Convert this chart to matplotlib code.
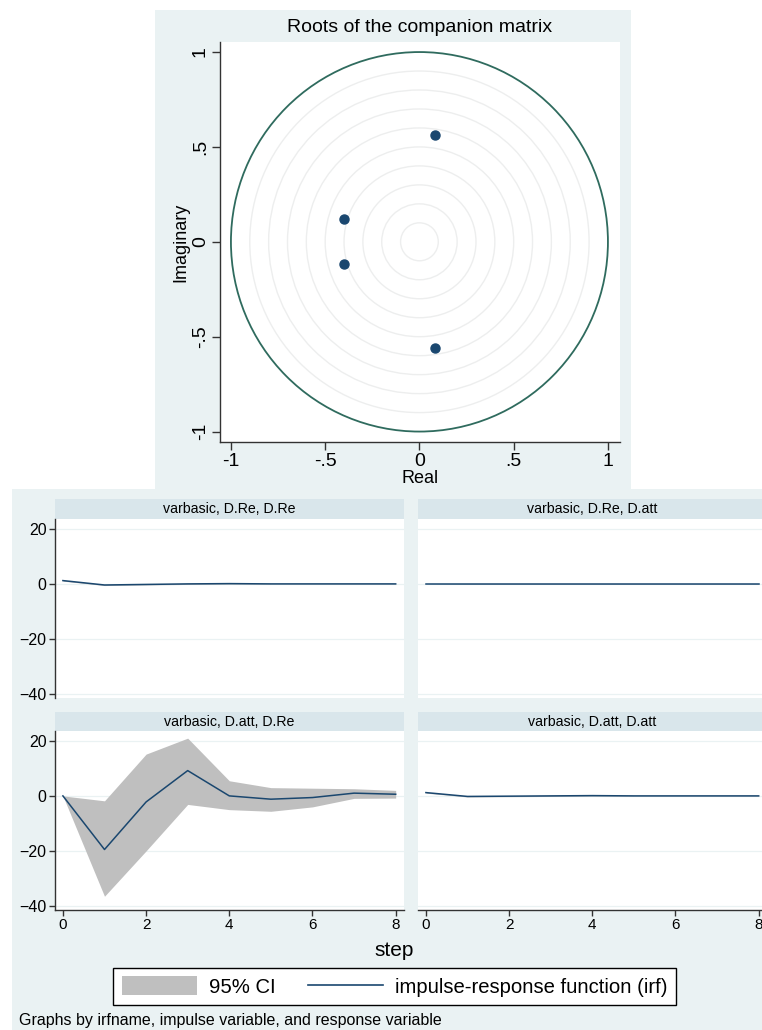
import matplotlib
matplotlib.use('Agg')
import matplotlib.pyplot as plt
from matplotlib.patches import Rectangle, Patch, Circle
from matplotlib.lines import Line2D

plt.rcParams['font.family'] = ['Liberation Sans', 'DejaVu Sans']

W, H = 762, 1030

# ---------------- data ----------------
root_real = [0.082, 0.082, -0.399, -0.399]
root_imag = [0.562, -0.562, 0.119, -0.119]
grid_radii = [0.1, 0.2, 0.3, 0.4, 0.5, 0.6, 0.7, 0.8, 0.9]
unit_radius = 1.0
root_ticks = [-1, -0.5, 0, 0.5, 1]
root_ticklabels = ['-1', '-.5', '0', '.5', '1']

steps = [0, 1, 2, 3, 4, 5, 6, 7, 8]
panel_titles = ['varbasic, D.Re, D.Re', 'varbasic, D.Re, D.att',
                'varbasic, D.att, D.Re', 'varbasic, D.att, D.att']

irf_re_re = [1.2, -0.4, -0.2, 0.0, 0.1, 0.0, 0.0, 0.0, 0.0]
lo_re_re = [1.0, -0.6, -0.4, -0.2, -0.1, -0.1, -0.1, -0.1, -0.1]
hi_re_re = [1.4, -0.2, 0.0, 0.2, 0.3, 0.1, 0.1, 0.1, 0.1]

irf_re_att = [0.0, 0.0, 0.0, 0.0, 0.0, 0.0, 0.0, 0.0, 0.0]
lo_re_att = [0.0, -0.1, -0.1, -0.1, -0.1, -0.1, -0.1, -0.1, -0.1]
hi_re_att = [0.0, 0.1, 0.1, 0.1, 0.1, 0.1, 0.1, 0.1, 0.1]

irf_att_re = [0.0, -19.5, -2.2, 9.2, 0.0, -1.2, -0.6, 1.0, 0.6]
lo_att_re = [0.0, -36.5, -20.0, -3.1, -5.0, -5.6, -4.0, -0.9, -0.8]
hi_att_re = [0.0, -1.8, 15.2, 21.0, 5.5, 3.0, 2.8, 2.6, 2.0]

irf_att_att = [1.2, -0.2, -0.1, 0.0, 0.1, 0.0, 0.0, 0.0, 0.0]
lo_att_att = [1.0, -0.4, -0.3, -0.2, -0.1, -0.1, -0.1, -0.1, -0.1]
hi_att_att = [1.4, 0.0, 0.1, 0.2, 0.3, 0.1, 0.1, 0.1, 0.1]

irf_yticks = [-40, -20, 0, 20]
irf_xticks = [0, 2, 4, 6, 8]

# ---------------- style ----------------
BG = '#EAF2F3'
STRIP = '#D9E6EB'
NAVY = '#1A476F'
CI = '#BFBFBF'
UNIT = '#2F6B5E'
GRIDC = '#EDEEEE'
AXC = '#333333'

fig = plt.figure(figsize=(W / 100, H / 100), dpi=100)
fig.patch.set_facecolor('white')


def fig_rect(x0, y0, x1, y1, color):
    fig.patches.append(Rectangle((x0 / W, 1 - y1 / H), (x1 - x0) / W, (y1 - y0) / H,
                                 transform=fig.transFigure, facecolor=color,
                                 edgecolor='none', zorder=-10))


def px_axes(x0, y0, x1, y1):
    return fig.add_axes([x0 / W, 1 - y1 / H, (x1 - x0) / W, (y1 - y0) / H])


# backgrounds
fig_rect(155, 10, 631, 489, BG)
fig_rect(12, 489, 762, 1030, BG)

# ---------------- top: roots of companion matrix ----------------
ax = px_axes(220, 42, 620, 442)
ax.set_facecolor('white')
for r in grid_radii:
    ax.add_patch(Circle((0, 0), r, fill=False, edgecolor=GRIDC, lw=1.0, zorder=1))
ax.add_patch(Circle((0, 0), unit_radius, fill=False, edgecolor=UNIT, lw=1.3, zorder=2))
ax.plot(root_real, root_imag, 'o', color=NAVY, markersize=6.5, zorder=3, linestyle='none')
ax.set_xlim(-1.058, 1.064)
ax.set_ylim(-1.055, 1.053)
ax.set_xticks(root_ticks)
ax.set_xticklabels(root_ticklabels)
ax.set_yticks(root_ticks)
ax.set_yticklabels(root_ticklabels, rotation=90, va='center')
ax.tick_params(axis='both', direction='out', length=5.5, width=1.0, color=AXC,
               labelsize=14, pad=2.5)
for s in ['top', 'right']:
    ax.spines[s].set_visible(False)
for s in ['left', 'bottom']:
    ax.spines[s].set_color(AXC)
    ax.spines[s].set_linewidth(1.0)
ax.set_xlabel('Real', fontsize=13, labelpad=0)
ax.set_ylabel('Imaginary', fontsize=13, labelpad=2)
fig.text(420 / W, 1 - 27 / H, 'Roots of the companion matrix', ha='center', va='center',
         fontsize=14)

# ---------------- bottom: IRF panels ----------------
cols = [(55, 404), (418, 767)]
rows = [(499, 519, 698), (712, 731, 910)]
panels = [
    (irf_re_re, lo_re_re, hi_re_re),
    (irf_re_att, lo_re_att, hi_re_att),
    (irf_att_re, lo_att_re, hi_att_re),
    (irf_att_att, lo_att_att, hi_att_att),
]

k = 0
for ri, (hy0, py0, py1) in enumerate(rows):
    for ci, (x0, x1) in enumerate(cols):
        irf, lo, hi = panels[k]
        # header strip
        hax = px_axes(x0, hy0, x1, py0)
        hax.set_facecolor(STRIP)
        hax.set_xticks([])
        hax.set_yticks([])
        for s in hax.spines.values():
            s.set_visible(False)
        hax.text(0.5, 0.5, panel_titles[k], ha='center', va='center', fontsize=10.2,
                 transform=hax.transAxes)
        # plot
        a = px_axes(x0, py0, x1, py1)
        a.set_facecolor('white')
        a.fill_between(steps, lo, hi, color=CI, linewidth=0, zorder=2)
        a.plot(steps, irf, color=NAVY, lw=1.1, zorder=3)
        a.set_xlim(-0.19, 8.2)
        a.set_ylim(-41.5, 23.6)
        a.set_yticks(irf_yticks)
        a.set_xticks(irf_xticks)
        a.grid(axis='y', color=BG, lw=0.9, zorder=1)
        a.grid(axis='x', visible=False)
        for s in ['top', 'right']:
            a.spines[s].set_visible(False)
        a.spines['left'].set_visible(ci == 0)
        a.spines['bottom'].set_visible(ri == 1)
        for s in ['left', 'bottom']:
            a.spines[s].set_color(AXC)
            a.spines[s].set_linewidth(1.0)
        a.tick_params(axis='y', direction='out', length=4.5, width=1.0, color=AXC,
                      labelsize=11.5, pad=1.5, left=(ci == 0), labelleft=(ci == 0))
        a.tick_params(axis='x', direction='out', length=4.5, width=1.0, color=AXC,
                      labelsize=11, pad=1.5, bottom=(ri == 1), labelbottom=(ri == 1))
        k += 1

fig.text(394 / W, 1 - 950 / H, 'step', ha='center', va='center', fontsize=15)

handles = [Patch(facecolor=CI, edgecolor='none'), Line2D([], [], color=NAVY, lw=1.2)]
leg = fig.legend(handles, ['95% CI', 'impulse-response function (irf)'],
                 loc='center', bbox_to_anchor=(394.5 / W, 1 - 986.5 / H), ncol=2,
                 fontsize=14.6, frameon=True, fancybox=False, edgecolor='black',
                 framealpha=1, handlelength=3.7, handleheight=1.0, handletextpad=0.6,
                 columnspacing=1.6, borderpad=0.4)
leg.get_frame().set_linewidth(1.0)

fig.text(19 / W, 1 - 1021 / H, 'Graphs by irfname, impulse variable, and response variable',
         ha='left', va='center', fontsize=11.5)

fig.savefig('out.png', dpi=100)
